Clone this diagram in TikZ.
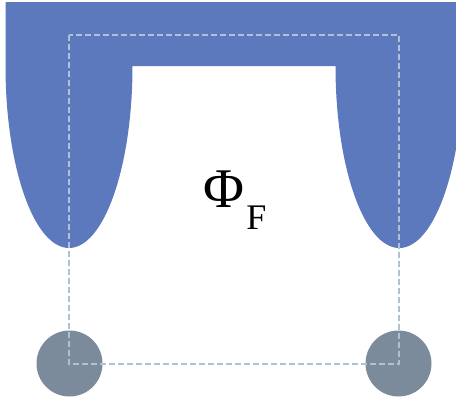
\documentclass[tikz,border=0pt]{standalone}
\usepackage{fontspec}
\setmainfont{Liberation Serif}
\definecolor{legblue}{RGB}{93,121,189}
\definecolor{footgray}{RGB}{123,139,155}
\definecolor{dashblue}{RGB}{175,193,213}
\tikzset{
  magnet/.style={fill=legblue, draw=none},
  foot/.style={fill=footgray, draw=none},
  frame/.style={draw=dashblue, line width=1.1pt, dash pattern=on 6pt off 3pt},
}
\begin{document}
\begin{tikzpicture}[x=1pt,y=-1pt]
\useasboundingbox (0,0) rectangle (456,400);
\fill[white] (0,0) rectangle (456,400);
\begin{scope}
\clip (0,0) rectangle (456,400);
\fill[magnet] (5.5,2) -- (463,2) -- (463,66)
  arc[start angle=0,end angle=180,x radius=63.75,y radius=182]
  -- (132.5,66)
  arc[start angle=0,end angle=180,x radius=63.5,y radius=182]
  -- cycle;
\end{scope}
\node[foot, circle, minimum size=66pt, inner sep=0pt] (footL) at (69.5,363.5) {};
\node[foot, circle, minimum size=66pt, inner sep=0pt] (footR) at (398.5,363.5) {};
\draw[frame] (69,35) rectangle (399,364);
\node[anchor=base, inner sep=0pt, font=\fontsize{56}{56}\selectfont] (phi) at (224,207) {Φ};
\node[anchor=base, inner sep=0pt, font=\fontsize{36}{36}\selectfont] (sub) at (256.5,229) {F};
\end{tikzpicture}
\end{document}
